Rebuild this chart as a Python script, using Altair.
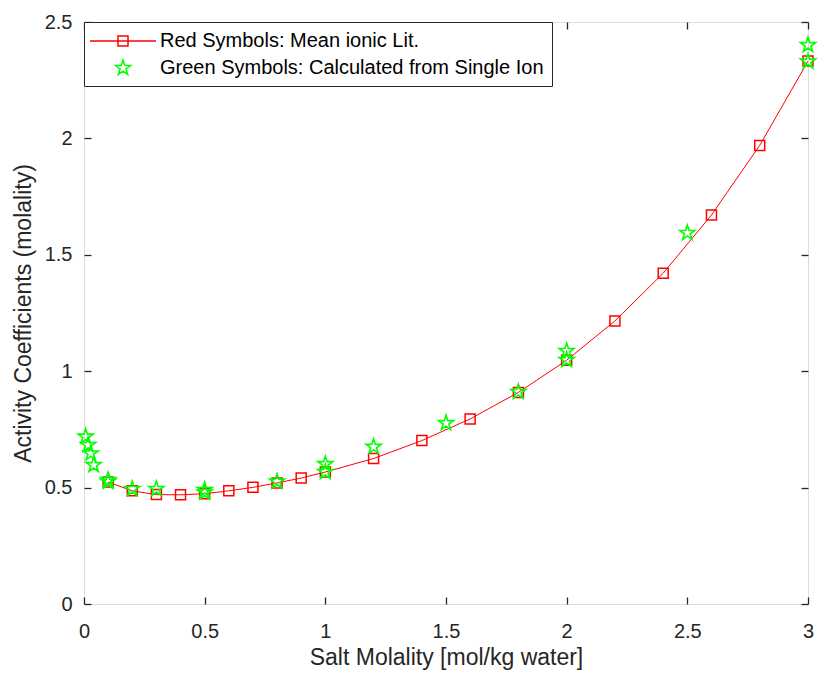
import altair as alt
import pandas as pd

# ---- data ----
red_x = [0.1, 0.2, 0.3, 0.4, 0.5, 0.6, 0.7, 0.8, 0.9, 1.0,
         1.2, 1.4, 1.6, 1.8, 2.0, 2.2, 2.4, 2.6, 2.8, 3.0]
red_y = [0.524, 0.486, 0.470, 0.469, 0.474, 0.486, 0.501, 0.520, 0.541, 0.567,
         0.625, 0.702, 0.795, 0.909, 1.047, 1.216, 1.421, 1.671, 1.970, 2.332]

green_x = [0.007, 0.017, 0.028, 0.040, 0.1, 0.1, 0.2, 0.3, 0.5, 0.5, 0.8,
           1.0, 1.0, 1.2, 1.5, 1.8, 2.0, 2.0, 2.5, 3.0, 3.0]
green_y = [0.719, 0.683, 0.647, 0.597, 0.533, 0.525, 0.494, 0.494, 0.490, 0.479, 0.526,
           0.601, 0.567, 0.675, 0.777, 0.911, 1.087, 1.048, 1.594, 2.401, 2.330]

legend_labels = ["Red Symbols: Mean ionic Lit.",
                 "Green Symbols: Calculated from Single Ion"]
legend_colors = ["#ff0000", "#00ff00"]

x_ticks = [0, 0.5, 1, 1.5, 2, 2.5, 3]
y_ticks = [0, 0.5, 1, 1.5, 2, 2.5]

red_df = pd.DataFrame({"m": red_x, "g": red_y})
green_df = pd.DataFrame({"m": green_x, "g": green_y})
leg_df = pd.DataFrame({"series": legend_labels})

FONT = "Liberation Sans"
AX = "#262626"

STAR_PTS = [(0, -1), (0.2245, -0.309), (0.951, -0.309), (0.363, 0.118), (0.588, 0.809),
            (0, 0.382), (-0.588, 0.809), (-0.363, 0.118), (-0.951, -0.309), (-0.2245, -0.309)]


def star_path(scale):
    pts = ["{:.4f},{:.4f}".format(px * scale, py * scale) for px, py in STAR_PTS]
    return "M" + "L".join(pts) + "Z"


STAR = star_path(1.0)
# legend symbols: symbolSize 400 -> 10 px per path unit
LEG_RED = "M-3.3,0L3.3,0M-0.5,-0.5L0.5,-0.5L0.5,0.5L-0.5,0.5Z"
LEG_STAR = star_path(0.8)

xscale = alt.Scale(domain=[0, 3], nice=False, zero=False)
yscale = alt.Scale(domain=[0, 2.5], nice=False, zero=False)

common_axis = dict(grid=False, domain=False, offset=-7, tickSize=7, tickWidth=1.3,
                   tickColor=AX, labelColor=AX, labelFont=FONT, labelFontSize=20,
                   labelFlush=False, labelOverlap=False,
                   titleFont=FONT, titleColor=AX, titleFontWeight="normal")

x_bottom = alt.X("m:Q", scale=xscale,
                 axis=alt.Axis(orient="bottom", values=x_ticks, format="~g",
                               title="Salt Molality [mol/kg water]", titleFontSize=23,
                               labelPadding=17, titlePadding=5, **common_axis))
y_left = alt.Y("g:Q", scale=yscale,
               axis=alt.Axis(orient="left", values=y_ticks, format="~g",
                             title="Activity Coefficients (molality)", titleFontSize=23,
                             labelPadding=12, titlePadding=9, **common_axis))

line = alt.Chart(red_df).mark_line(color="#ff0000", strokeWidth=1).encode(
    x=x_bottom, y=y_left)

squares = alt.Chart(red_df).mark_point(
    shape="square", size=100, filled=False, color="#ff0000", strokeWidth=1.5, opacity=1
).encode(x=alt.X("m:Q", scale=xscale, axis=None),
         y=alt.Y("g:Q", scale=yscale, axis=None))

top_right_axis = dict(grid=False, domain=False, offset=-7, tickSize=7, tickWidth=1.3,
                      tickColor=AX, labels=False, title=None)

stars = alt.Chart(green_df).mark_point(
    shape=STAR, size=250, filled=False, color="#00ff00", strokeWidth=1.6, opacity=1
).encode(
    x=alt.X("m:Q", scale=xscale, axis=alt.Axis(orient="top", values=x_ticks, **top_right_axis)),
    y=alt.Y("g:Q", scale=yscale, axis=alt.Axis(orient="right", values=y_ticks, **top_right_axis)),
)

legend_layer = alt.Chart(leg_df).mark_point(
    filled=False, strokeWidth=1.5, clip=True, opacity=1, size=400
).encode(
    x=alt.datum(-5, axis=None),
    y=alt.datum(-5, axis=None),
    color=alt.Color("series:N",
                    scale=alt.Scale(domain=legend_labels, range=legend_colors),
                    legend=alt.Legend(title=None, orient="none", legendX=0, legendY=0,
                                      labelFont=FONT, labelFontSize=20, labelColor="#000000",
                                      symbolSize=400, symbolStrokeWidth=1.5,
                                      symbolFillColor="transparent",
                                      symbolOffset=20, labelOffset=26,
                                      rowPadding=6, padding=8,
                                      strokeColor=AX, fillColor="white",
                                      labelLimit=600)),
    shape=alt.Shape("series:N",
                    scale=alt.Scale(domain=legend_labels, range=[LEG_RED, LEG_STAR]),
                    legend=None),
)

chart = alt.layer(line, squares, stars, legend_layer).resolve_axis(
    x="independent", y="independent"
).properties(
    width=724, height=582,
    autosize=alt.AutoSizeParams(type="none"),
    padding={"left": 84, "top": 22, "right": 10, "bottom": 74},
).configure_view(
    stroke=AX, strokeWidth=1.6
).configure(background="white")

chart.save("out.html", embed_options={"renderer": "svg", "actions": False})
